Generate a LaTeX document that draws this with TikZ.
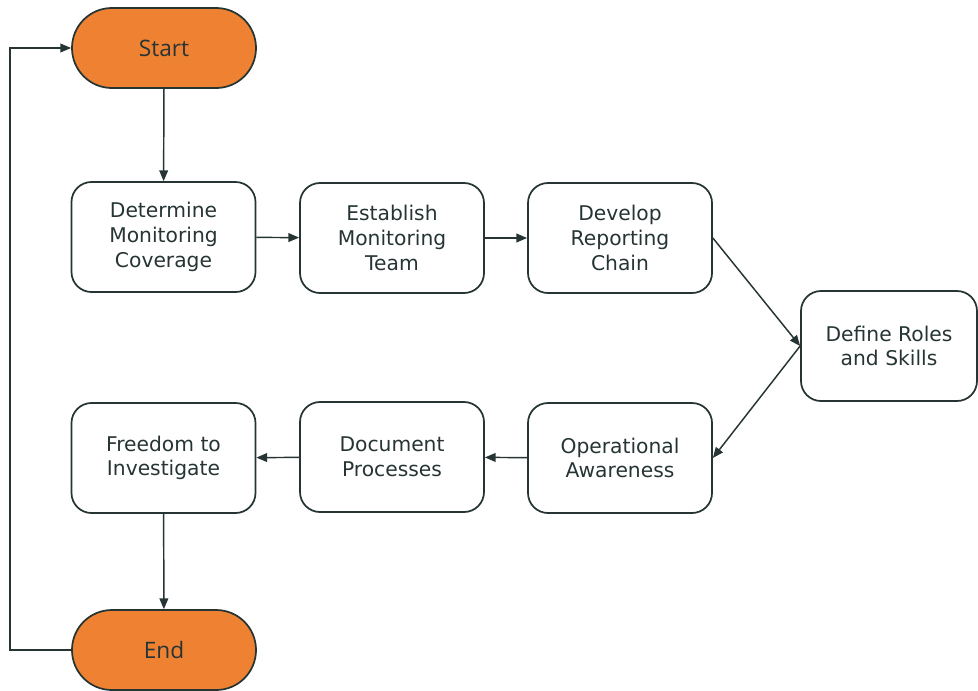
\documentclass[tikz,border=0pt]{standalone}
\usepackage{fontspec}
\setmainfont{DejaVu Sans}
\newfontfamily\termfont{Open Sans}
\usetikzlibrary{arrows.meta}
\definecolor{edge}{HTML}{263434}
\definecolor{termfill}{HTML}{EF8232}
\begin{document}
\begin{tikzpicture}[x=0.75pt,y=-0.75pt,
  stepbox/.style={draw=edge, line width=1.3pt, rounded corners=15pt,
    minimum width=138pt, minimum height=82.5pt, inner sep=0pt,
    align=center, text=edge, font=\fontsize{15.2}{18.5}\selectfont},
  term/.style={draw=edge, line width=1.3pt, fill=termfill, rounded corners=29.9pt,
    minimum width=138pt, minimum height=60pt, inner sep=0pt,
    text=edge, font=\termfont\fontsize{17}{20}\selectfont},
  flow/.style={draw=edge, line width=1.1pt, -{Triangle[length=8pt,width=6.5pt]}}]
\useasboundingbox (0,0) rectangle (978,690);

% terminals
\node[term] (start) at (164,48) {Start};
\node[term] (end) at (164,650) {End};

% top row
\node[stepbox] (cover) at (163.5,237) {Determine\\Monitoring\\Coverage};
\node[stepbox] (team) at (392,238) {Establish\\Monitoring\\Team};
\node[stepbox] (chain) at (620,238) {Develop\\Reporting\\Chain};

% right-hand step
\node[stepbox, minimum width=132pt] (roles) at (889,346) {Define Roles\\and Skills};

% bottom row
\node[stepbox] (aware) at (620,458) {Operational\\Awareness};
\node[stepbox] (docs) at (392,457) {Document\\Processes};
\node[stepbox] (free) at (163.5,458) {Freedom to\\Investigate};

% connectors
\draw[flow] (start) -- (cover);
\draw[flow] (cover) -- (team);
\draw[flow] (team) -- (chain);
\draw[flow] (chain.east) -- (roles.west);
\draw[flow] (roles.west) -- (aware.east);
\draw[flow] (aware) -- (docs);
\draw[flow] (docs) -- (free);
\draw[flow] (free) -- (end);
\coordinate (loopbot) at (10,650);
\coordinate (looptop) at (10,48);
\draw[flow] (end.west) -- (loopbot) -- (looptop) -- (start.west);
\end{tikzpicture}
\end{document}
